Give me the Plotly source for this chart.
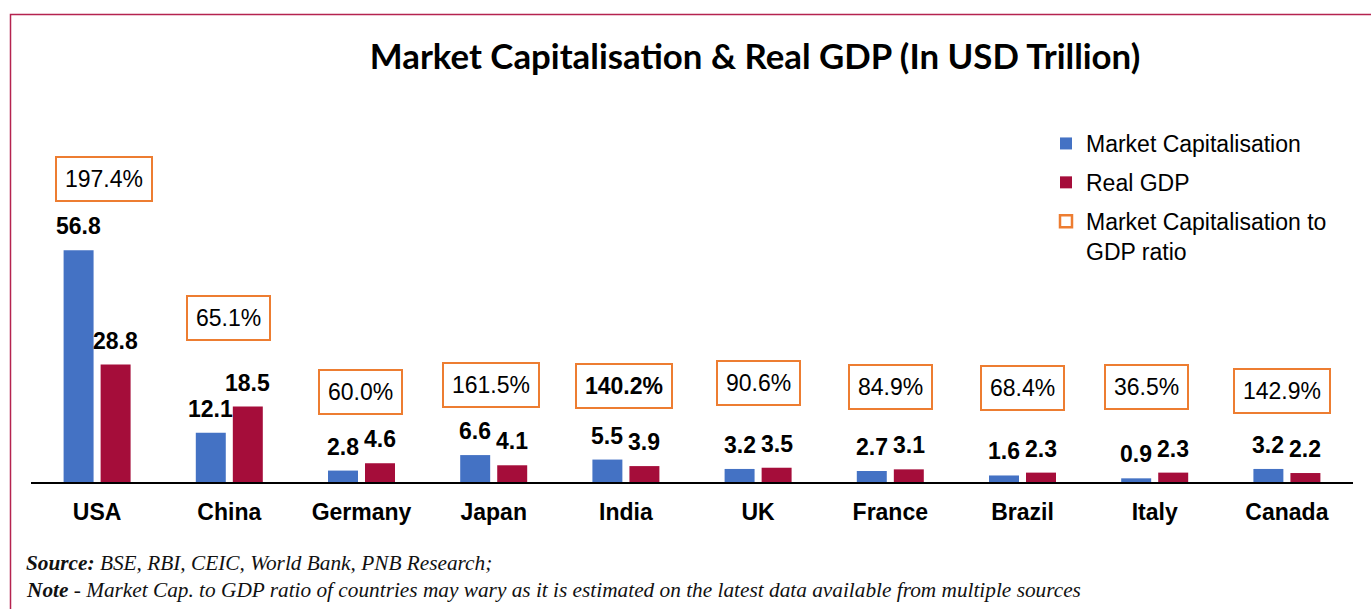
import plotly.graph_objects as go

# ---------------- data ----------------
countries = ["USA", "China", "Germany", "Japan", "India", "UK", "France", "Brazil", "Italy", "Canada"]
market_cap = [56.8, 12.1, 2.8, 6.6, 5.5, 3.2, 2.7, 1.6, 0.9, 3.2]
real_gdp = [28.8, 18.5, 4.6, 4.1, 3.9, 3.5, 3.1, 2.3, 2.3, 2.2]
mcap_gdp_ratio = [197.4, 65.1, 60.0, 161.5, 140.2, 90.6, 84.9, 68.4, 36.5, 142.9]

# ---------------- layout constants ----------------
W, H = 1371, 609
ML, MR, MT, MB = 31, 18, 13, 127
Y_MAX = 115
BARGAP = 0.44
PW = W - ML - MR
PH = H - MT - MB
BASE_PX = H - MB  # pixel y of the x axis

BLUE = "#4472C4"
RED = "#A50D3A"
ORANGE = "#ED7D31"
FRAME = "#B5234F"

# annotation placement for ratio boxes (data-y of box centre, pixel x shift)
ratio_box_y = [74.3, 40.2, 22.1, 23.8, 23.5, 24.3, 23.3, 23.0, 23.3, 22.3]
ratio_box_dx = [7, -1, -1, -3, -2, 0, 0, 0, -8, -5]
bold_ratio = {"India"}


def px_to_paper_y(py):
    return (BASE_PX - py) / PH


def px_to_paper_x(px):
    return (px - ML) / PW


fig = go.Figure()
fig.add_trace(go.Bar(name="Market Capitalisation", x=countries, y=market_cap, legendgroup="a",
                     marker=dict(color=BLUE, line=dict(width=0))))
fig.add_trace(go.Bar(name="Real GDP", x=countries, y=real_gdp, legendgroup="b",
                     marker=dict(color=RED, line=dict(width=0))))
fig.add_trace(go.Scatter(name="Market Capitalisation to<br>GDP ratio", x=[None], y=[None],
                         mode="markers", legendgroup="c",
                         marker=dict(symbol="square-open", size=12, color=ORANGE,
                                     line=dict(width=2.5, color=ORANGE))))

annotations = []
bar_off = (1 - BARGAP) * (PW / len(countries)) / 4
label_font = dict(family="Liberation Sans", size=23, color="black", weight="bold")
for i, c in enumerate(countries):
    for vals, sh in ((market_cap, -bar_off), (real_gdp, bar_off)):
        annotations.append(dict(x=c, y=vals[i], xref="x", yref="y", text=f"{vals[i]:.1f}",
                                showarrow=False, xanchor="center", yanchor="bottom",
                                xshift=sh, yshift=9, font=label_font))
    annotations.append(dict(
        x=c, y=ratio_box_y[i], xref="x", yref="y", text=f"{mcap_gdp_ratio[i]:.1f}%",
        showarrow=False, xanchor="center", yanchor="middle", xshift=ratio_box_dx[i],
        bordercolor=ORANGE, borderwidth=2, borderpad=8, bgcolor="white",
        font=dict(family="Liberation Sans", size=23, color="black",
                  weight="bold" if c in bold_ratio else "normal")))

note_font = dict(family="Liberation Serif", size=21.3, color="#111111", style="italic")
annotations.append(dict(xref="paper", yref="paper", x=px_to_paper_x(24), y=px_to_paper_y(563),
                        xanchor="left", yanchor="middle", showarrow=False, align="left",
                        text="<b>Source:</b> BSE, RBI, CEIC, World Bank, PNB Research;",
                        font=note_font))
annotations.append(dict(xref="paper", yref="paper", x=px_to_paper_x(24), y=px_to_paper_y(590),
                        xanchor="left", yanchor="middle", showarrow=False, align="left",
                        text="<b>Note</b> - Market Cap. to GDP ratio of countries may wary as it is "
                             "estimated on the latest data available from multiple sources",
                        font=note_font))

fig.update_layout(
    width=W, height=H,
    margin=dict(l=ML, r=MR, t=MT, b=MB, pad=0),
    paper_bgcolor="white", plot_bgcolor="white",
    barmode="group", bargap=BARGAP, bargroupgap=0.19,
    title=dict(text="Market Capitalisation & Real GDP (In USD Trillion)",
               x=755 / W, xref="container", xanchor="center",
               y=1 - 57 / H, yref="container", yanchor="middle",
               font=dict(family="Lato", size=34.8, color="black", weight="bold")),
    xaxis=dict(showline=True, linecolor="black", linewidth=2, ticks="", showgrid=False,
               tickfont=dict(family="Liberation Sans", size=23, color="black", weight="bold"),
               ticklabelstandoff=8, fixedrange=True),
    yaxis=dict(range=[0, Y_MAX], visible=False, showgrid=False, zeroline=False, fixedrange=True),
    showlegend=True,
    legend=dict(x=px_to_paper_x(1046), y=px_to_paper_y(122), xanchor="left", yanchor="top",
                font=dict(family="Liberation Sans", size=23, color="black"),
                valign="top", bgcolor="rgba(0,0,0,0)", tracegroupgap=6),
    annotations=annotations,
    shapes=[dict(type="rect", xref="paper", yref="paper",
                 x0=px_to_paper_x(10.5), x1=px_to_paper_x(W + 20),
                 y0=px_to_paper_y(H + 20), y1=px_to_paper_y(14.5),
                 line=dict(color=FRAME, width=1.5), fillcolor="rgba(0,0,0,0)", layer="below")],
)

fig.write_html("out.html", post_script="document.body.style.margin='0';",
               config={"displayModeBar": False})
